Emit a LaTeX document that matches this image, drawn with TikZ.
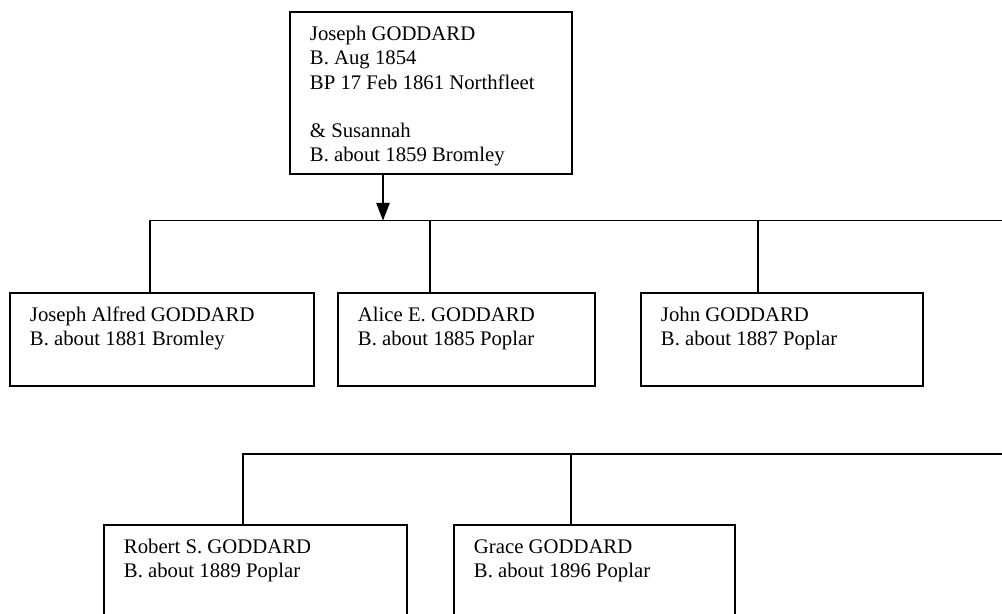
\documentclass[tikz,border=0pt]{standalone}
\usepackage{fontspec}
\setmainfont{Liberation Serif}
\usepackage{tikz}
\usetikzlibrary{arrows.meta,calc}
\newlength{\pxu}
\setlength{\pxu}{0.02cm}
\newcommand{\famtext}[3]{\parbox[t][#2\pxu][t]{#1\pxu}{\strut #3}}

\begin{document}
\begin{tikzpicture}[x=0.02cm,y=-0.02cm,>={Triangle[width=7.6pt,length=10pt]},
  fam/.style={draw,line width=1.1pt,fill=white,anchor=north west,inner xsep=20\pxu,inner ysep=11.6\pxu,font=\fontsize{11.8pt}{13.8pt}\selectfont},
  link/.style={line width=0.8pt}]
\useasboundingbox (0,0) rectangle (1002,614);
\coordinate (busA) at (1002,220.5);
\coordinate (busB) at (1002,454);
\coordinate (drop) at (383,220.5);
% parents
\node[fam] (joseph) at (289,11) {\famtext{242}{138.8}{Joseph GODDARD\\B. Aug 1854\\BP 17 Feb 1861 Northfleet\\[13.8pt]\& Susannah\\B. about 1859 Bromley}};
% children
\node[fam] (jalfred) at (9,292) {\famtext{264}{69.8}{Joseph Alfred GODDARD\\B. about 1881 Bromley}};
\node[fam] (alice) at (337,292) {\famtext{217}{69.8}{Alice E. GODDARD\\B. about 1885 Poplar}};
\node[fam] (john) at (640,292) {\famtext{242}{69.8}{John GODDARD\\B. about 1887 Poplar}};
\node[fam] (robert) at (103,524) {\famtext{263}{69.8}{Robert S. GODDARD\\B. about 1889 Poplar}};
\node[fam] (grace) at (453,524) {\famtext{241}{69.8}{Grace GODDARD\\B. about 1896 Poplar}};
% connectors
\draw[link,->] (drop |- joseph.south) -- (drop);
\foreach \n/\dx in {jalfred/141,alice/93,john/118}{\draw[link] (\n.north west) ++(\dx,0) |- (busA);}
\foreach \n/\dx in {robert/140,grace/118}{\draw[link] (\n.north west) ++(\dx,0) |- (busB);}
\end{tikzpicture}
\end{document}
